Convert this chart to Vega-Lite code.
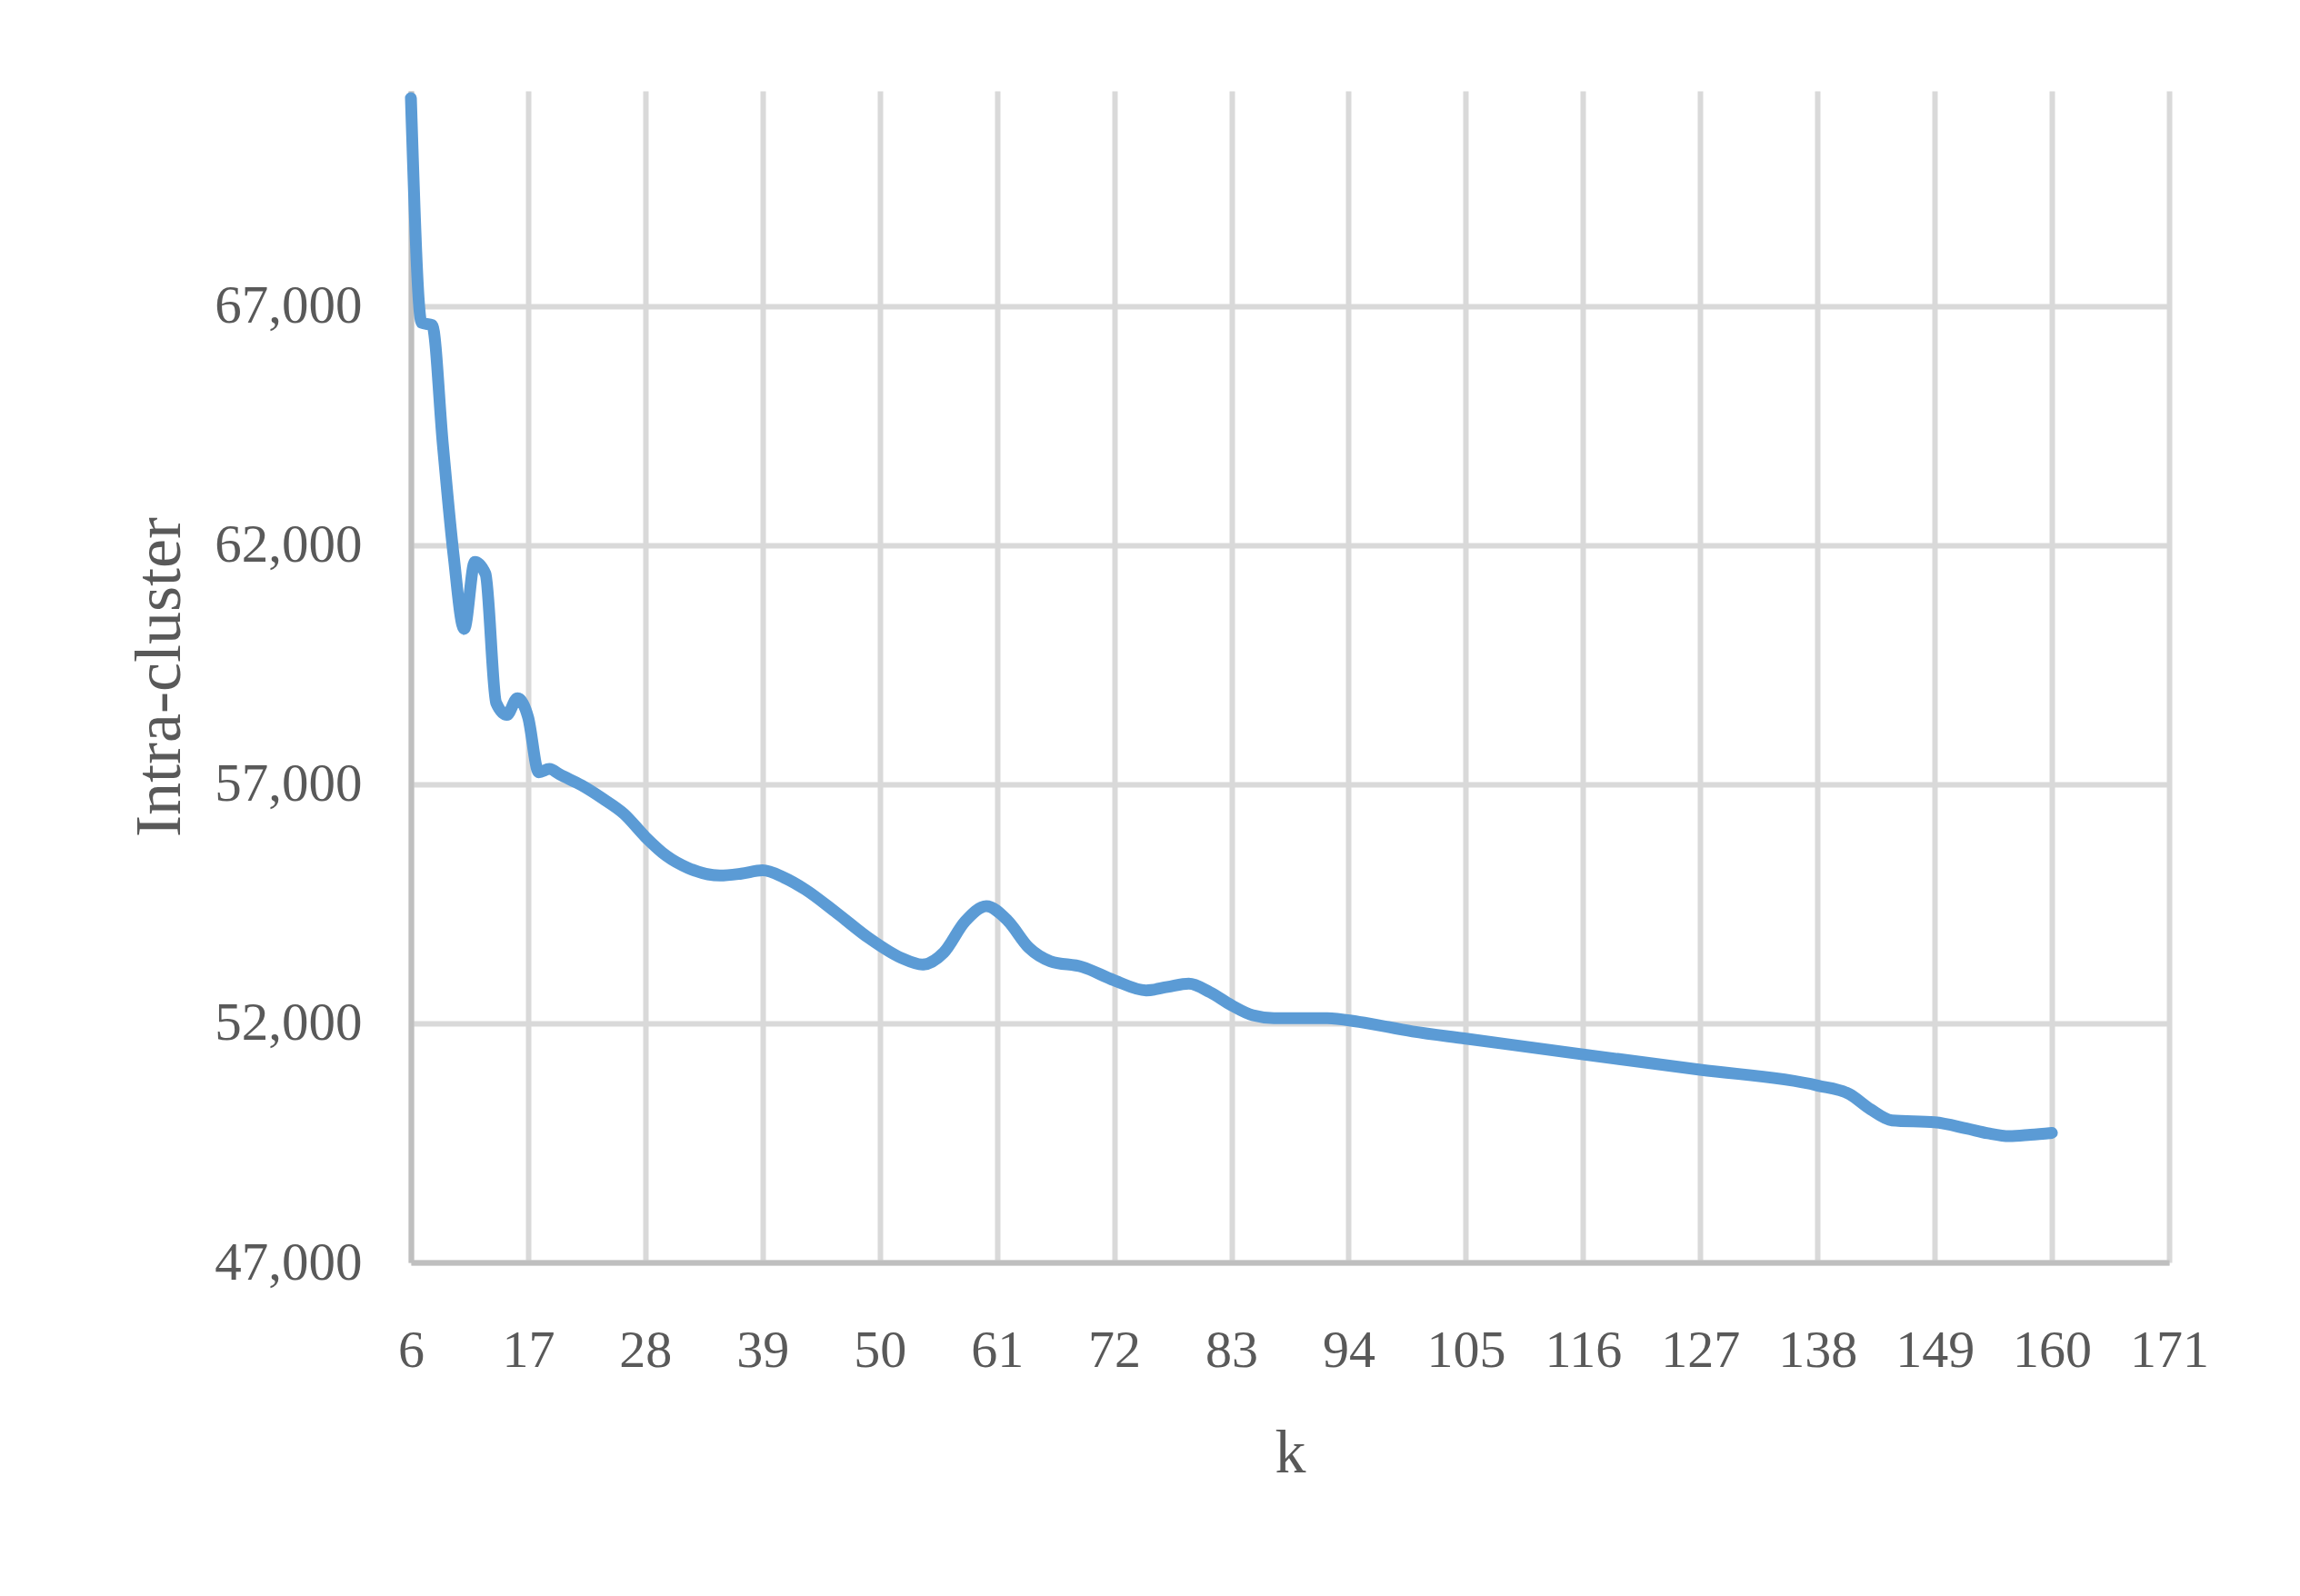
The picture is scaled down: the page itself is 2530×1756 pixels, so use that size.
{
  "$schema": "https://vega.github.io/schema/vega-lite/v6.json",
  "width": 1934,
  "height": 1289,
  "autosize": {"type": "none"},
  "padding": {"left": 452, "top": 100, "right": 144, "bottom": 367},
  "background": "white",
  "config": {
    "view": {"stroke": null},
    "font": "Liberation Serif"
  },
  "data": {
    "values": [
      {"k": 6, "v": 71350},
      {"k": 7, "v": 66650},
      {"k": 8, "v": 66600},
      {"k": 9, "v": 64100},
      {"k": 10, "v": 61800},
      {"k": 11, "v": 60250},
      {"k": 12, "v": 61650},
      {"k": 13, "v": 61400},
      {"k": 14, "v": 58700},
      {"k": 15, "v": 58450},
      {"k": 16, "v": 58800},
      {"k": 17, "v": 58400},
      {"k": 18, "v": 57250},
      {"k": 19, "v": 57320},
      {"k": 20, "v": 57200},
      {"k": 22, "v": 56980},
      {"k": 24, "v": 56700},
      {"k": 26, "v": 56380},
      {"k": 28, "v": 55900},
      {"k": 30, "v": 55500},
      {"k": 32, "v": 55250},
      {"k": 35, "v": 55090},
      {"k": 37, "v": 55130},
      {"k": 39, "v": 55200},
      {"k": 41, "v": 55050},
      {"k": 43, "v": 54800},
      {"k": 46, "v": 54300},
      {"k": 49, "v": 53780},
      {"k": 52, "v": 53370},
      {"k": 54, "v": 53230},
      {"k": 56, "v": 53480},
      {"k": 58, "v": 54130},
      {"k": 60, "v": 54450},
      {"k": 62, "v": 54150},
      {"k": 64, "v": 53580},
      {"k": 66, "v": 53300},
      {"k": 69, "v": 53180},
      {"k": 72, "v": 52900},
      {"k": 75, "v": 52690},
      {"k": 77, "v": 52760},
      {"k": 79, "v": 52830},
      {"k": 81, "v": 52650},
      {"k": 83, "v": 52380},
      {"k": 85, "v": 52170},
      {"k": 87, "v": 52110},
      {"k": 92, "v": 52110},
      {"k": 95, "v": 52030},
      {"k": 100, "v": 51830},
      {"k": 105, "v": 51680},
      {"k": 116, "v": 51350},
      {"k": 127, "v": 51030},
      {"k": 138, "v": 50700},
      {"k": 141, "v": 50520},
      {"k": 143, "v": 50200},
      {"k": 145, "v": 49970},
      {"k": 149, "v": 49930},
      {"k": 152, "v": 49800},
      {"k": 154, "v": 49700},
      {"k": 156, "v": 49640},
      {"k": 158, "v": 49670},
      {"k": 160, "v": 49710}
    ]
  },
  "mark": {
    "type": "line",
    "color": "#5b9bd5",
    "strokeWidth": 13,
    "strokeCap": "round",
    "strokeJoin": "round",
    "interpolate": "monotone"
  },
  "encoding": {
    "x": {
      "field": "k",
      "type": "quantitative",
      "scale": {"domain": [6, 171], "nice": false, "zero": false},
      "axis": {
        "title": "k",
        "values": [6, 17, 28, 39, 50, 61, 72, 83, 94, 105, 116, 127, 138, 149, 160, 171],
        "format": "d",
        "grid": true,
        "gridColor": "#d9d9d9",
        "gridWidth": 6,
        "domainColor": "#bfbfbf",
        "domainWidth": 6,
        "ticks": false,
        "tickSize": 0,
        "labelFont": "Liberation Serif",
        "labelFontSize": 58,
        "labelColor": "#595959",
        "labelPadding": 68,
        "labelFlush": false,
        "labelOverlap": false,
        "labelBound": false,
        "titleFont": "Liberation Serif",
        "titleFontSize": 68,
        "titleFontWeight": "normal",
        "titleColor": "#595959",
        "titlePadding": 50
      }
    },
    "y": {
      "field": "v",
      "type": "quantitative",
      "scale": {"domain": [47000, 71500], "nice": false, "zero": false},
      "axis": {
        "title": "Intra-cluster",
        "values": [47000, 52000, 57000, 62000, 67000],
        "format": ",d",
        "grid": true,
        "gridColor": "#d9d9d9",
        "gridWidth": 6,
        "domainColor": "#bfbfbf",
        "domainWidth": 6,
        "ticks": false,
        "tickSize": 0,
        "labelFont": "Liberation Serif",
        "labelFontSize": 59,
        "labelColor": "#595959",
        "labelPadding": 54,
        "labelFlush": false,
        "labelOverlap": false,
        "labelBound": false,
        "titleFont": "Liberation Serif",
        "titleFontSize": 72,
        "titleFontWeight": "normal",
        "titleColor": "#595959",
        "titlePadding": 40
      }
    }
  }
}
